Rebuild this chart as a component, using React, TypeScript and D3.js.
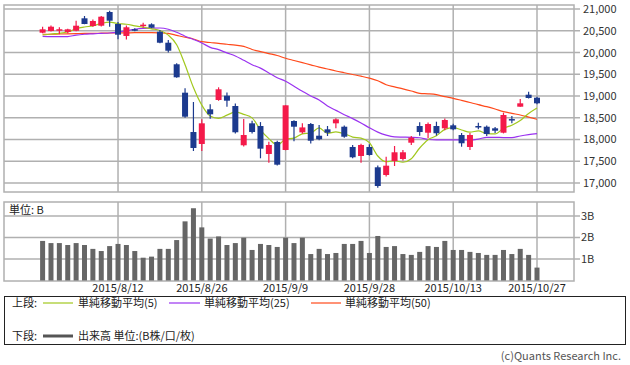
import * as d3 from "d3";

// trading days, 2015/7/30 .. 2015/10/27
const dates = [
  "7/30", "7/31", "8/3", "8/4", "8/5", "8/6", "8/7", "8/10", "8/11", "8/12",
  "8/13", "8/14", "8/17", "8/18", "8/19", "8/20", "8/21", "8/24", "8/25", "8/26",
  "8/27", "8/28", "8/31", "9/1", "9/2", "9/3", "9/4", "9/7", "9/8", "9/9",
  "9/10", "9/11", "9/14", "9/15", "9/16", "9/17", "9/18", "9/24", "9/25", "9/28",
  "9/29", "9/30", "10/1", "10/2", "10/5", "10/6", "10/7", "10/8", "10/9", "10/13",
  "10/14", "10/15", "10/16", "10/19", "10/20", "10/21", "10/22", "10/23", "10/26", "10/27",
];

const open = [
  20455, 20494, 20525, 20471, 20501, 20786, 20609, 20616, 20931, 20655,
  20380, 20535, 20620, 20648, 20478, 20225, 19729, 19076, 18172, 17897,
  18694, 18908, 19007, 18770, 17867, 18372, 18310, 17667, 17943, 17759,
  18425, 18164, 18356, 18087, 18234, 18372, 18294, 17828, 17621, 17828,
  17361, 17184, 17506, 17552, 17926, 18310, 18156, 18310, 18257, 18326,
  18103, 17828, 18310, 18294, 18257, 18156, 18470, 18754, 19030, 18961,
];
const high = [
  20593, 20620, 20579, 20548, 20731, 20839, 20760, 20839, 20961, 20701,
  20620, 20560, 20685, 20671, 20517, 20290, 19750, 19177, 18862, 18464,
  18809, 19200, 19080, 18830, 18471, 18430, 18400, 17950, 17970, 18790,
  18440, 18372, 18380, 18333, 18310, 18490, 18320, 17874, 17900, 17889,
  17400, 17605, 17851, 17760, 18080, 18395, 18390, 18409, 18480, 18360,
  18150, 18150, 18386, 18320, 18290, 18616, 18540, 18931, 19099, 18984,
];
const low = [
  20441, 20480, 20418, 20441, 20490, 20650, 20590, 20600, 20593, 20303,
  20300, 20490, 20570, 20560, 20210, 20000, 19420, 18501, 17736, 17736,
  18478, 18890, 18754, 18140, 17840, 18140, 17568, 17467, 17400, 17750,
  17959, 18130, 17910, 17980, 18080, 18260, 18040, 17570, 17467, 17630,
  16892, 17150, 17391, 17520, 17874, 18087, 18030, 18090, 18210, 18210,
  17834, 17759, 18234, 18080, 18150, 18140, 18372, 18750, 18940, 18810,
];
const close = [
  20533, 20593, 20535, 20533, 20616, 20655, 20724, 20823, 20731, 20409,
  20580, 20530, 20640, 20570, 20225, 20041, 19430, 18524, 17805, 18372,
  18579, 19154, 18892, 18166, 18103, 18172, 17789, 17874, 17421, 18786,
  18294, 18278, 17972, 18005, 18156, 18464, 18064, 17591, 17874, 17644,
  16931, 17398, 17706, 17706, 18041, 18172, 18356, 18143, 18448, 18234,
  17913, 18103, 18300, 18126, 18202, 18563, 18460, 18832, 18954, 18832,
];

const ma5 = [
  20402, 20425, 20441, 20471, 20545, 20586, 20613, 20670, 20700, 20665,
  20650, 20613, 20580, 20545, 20505, 20400, 20179, 19720, 19195, 18790,
  18542, 18487, 18560, 18633, 18579, 18497, 18224, 18021, 17872, 18008,
  18033, 18131, 18150, 18267, 18141, 18175, 18132, 18056, 18030, 17927,
  17621, 17488, 17511, 17477, 17556, 17805, 17996, 18084, 18232, 18271,
  18219, 18168, 18200, 18135, 18129, 18259, 18328, 18435, 18600, 18726,
];
const ma25 = [
  20370, 20363, 20363, 20365, 20400, 20420, 20430, 20440, 20448, 20470,
  20500, 20535, 20556, 20562, 20563, 20535, 20464, 20375, 20300, 20218,
  20119, 20065, 19990, 19920, 19820, 19720, 19640, 19530, 19420, 19340,
  19225, 19110, 19000, 18910, 18770, 18670, 18570, 18480, 18380, 18270,
  18170, 18100, 18060, 18055, 18050, 18040, 18000, 17990, 17990, 17990,
  17990, 17990, 18010, 18050, 18050, 18045, 18045, 18080, 18110, 18135,
];
const ma50 = [
  20420, 20420, 20425, 20430, 20435, 20440, 20440, 20445, 20448, 20450,
  20452, 20455, 20455, 20455, 20450, 20440, 20395, 20350, 20310, 20250,
  20230, 20212, 20190, 20170, 20140, 20070, 20020, 19975, 19930, 19867,
  19817, 19767, 19717, 19665, 19620, 19575, 19535, 19495, 19455, 19410,
  19350, 19260, 19210, 19165, 19115, 19062, 19050, 19030, 18985, 18947,
  18900, 18850, 18800, 18754, 18700, 18640, 18600, 18563, 18515, 18464,
];

// volume, unit B
const volume = [
  1.84, 1.74, 1.74, 1.65, 1.74, 1.65, 1.47, 1.37, 1.6, 1.7,
  1.65, 1.37, 1.06, 1.11, 1.47, 1.47, 1.88, 2.75, 3.36, 2.47,
  1.95, 2.05, 1.65, 1.74, 1.99, 1.42, 1.7, 1.65, 1.56, 1.99,
  1.74, 1.99, 1.23, 1.47, 1.23, 1.28, 1.7, 1.7, 1.84, 1.28,
  2.07, 1.56, 1.6, 1.23, 1.19, 1.33, 1.6, 1.56, 1.84, 1.42,
  1.42, 1.33, 1.28, 1.19, 1.19, 1.42, 1.23, 1.47, 1.19, 0.6,
];

const priceTicks = [21000, 20500, 20000, 19500, 19000, 18500, 18000, 17500, 17000];
const volTicks = [3, 2, 1];
const labelDates = ["8/12", "8/26", "9/9", "9/28", "10/13", "10/27"];

const FONT = "'Noto Sans CJK JP', 'Noto Sans', sans-serif";
const RED = "#f41a4a";
const BLUE = "#1c3a8e";
const GRID = "#b0b0b0";

const App = () => {
  const left = 4;
  const right = 574;

  const x = d3.scalePoint<string>().domain(dates).range([42.6, 537]);
  const y = d3.scaleLinear().domain([16793, 21092]).range([192, 5]);
  const yv = d3.scaleLinear().domain([0, 3.65]).range([280.5, 202]);

  const line = (vals: number[]) =>
    d3
      .line<number>()
      .x((_, i) => x(dates[i]) as number)
      .y((d) => y(d))
      .curve(d3.curveMonotoneX)(vals) as string;

  return (
    <svg
      width={630}
      height={365}
      style={{ position: "absolute", left: 0, top: 0, background: "#fff" }}
      fontFamily={FONT}
    >
      <rect width={630} height={365} fill="#fff" />

      {/* upper panel grid */}
      {priceTicks.map((t) => (
        <g key={t}>
          <line x1={left} x2={right + 6} y1={y(t)} y2={y(t)} stroke={GRID} strokeWidth={1.5} />
          <text x={583} y={y(t) + 4} fontSize={11} fill="#333">
            {d3.format(",")(t)}
          </text>
        </g>
      ))}
      {labelDates.map((d) => (
        <line key={d} x1={x(d)} x2={x(d)} y1={5} y2={192} stroke={GRID} strokeWidth={1.5} />
      ))}
      <rect x={left} y={5} width={right - left} height={187} fill="none" stroke={GRID} strokeWidth={1.5} />

      {/* moving averages */}
      <path d={line(ma50)} fill="none" stroke="#ff4a1c" strokeWidth={1.2} />
      <path d={line(ma25)} fill="none" stroke="#9a32f0" strokeWidth={1.2} />
      <path d={line(ma5)} fill="none" stroke="#a2c81e" strokeWidth={1.2} />

      {/* candles */}
      {dates.map((d, i) => {
        const cx = x(d) as number;
        const up = close[i] > open[i];
        const c = up ? RED : BLUE;
        const top = y(Math.max(open[i], close[i]));
        const bot = y(Math.min(open[i], close[i]));
        const h = Math.max(bot - top, 1.5);
        return (
          <g key={d}>
            <line x1={cx} x2={cx} y1={y(high[i])} y2={y(low[i])} stroke={c} strokeWidth={1.2} />
            <rect x={cx - 3} y={top} width={6} height={h} fill={c} />
          </g>
        );
      })}

      {/* lower panel */}
      {volTicks.map((t) => (
        <g key={t}>
          <line x1={left} x2={right + 6} y1={yv(t)} y2={yv(t)} stroke={GRID} strokeWidth={1.5} />
          <text x={581} y={yv(t) + 4} fontSize={11} fill="#333">
            {t}B
          </text>
        </g>
      ))}
      {labelDates.map((d) => (
        <line key={d} x1={x(d)} x2={x(d)} y1={202} y2={281} stroke={GRID} strokeWidth={1.5} />
      ))}
      <rect x={left} y={202} width={right - left} height={79} fill="none" stroke={GRID} strokeWidth={1.5} />
      <text x={9} y={214} fontSize={11} fill="#222">
        単位: B
      </text>
      {dates.map((d, i) => (
        <rect
          key={d}
          x={(x(d) as number) - 2.5}
          y={yv(volume[i])}
          width={5}
          height={yv(0) - yv(volume[i])}
          fill="#666"
        />
      ))}

      {/* date labels */}
      {labelDates.map((d) => (
        <text key={d} x={x(d)} y={292} fontSize={11} fill="#222" textAnchor="middle">
          2015/{d}
        </text>
      ))}

      {/* legend */}
      <rect x={4.5} y={296.5} width={621} height={48} fill="none" stroke="#222" strokeWidth={1} />
      <g fontSize={11} fill="#222">
        <text x={12} y={307}>上段:</text>
        <line x1={43} x2={73} y1={303} y2={303} stroke="#a2c81e" strokeWidth={1.2} />
        <text x={78} y={307}>単純移動平均(5)</text>
        <line x1={169} x2={200} y1={303} y2={303} stroke="#9a32f0" strokeWidth={1.2} />
        <text x={204} y={307}>単純移動平均(25)</text>
        <line x1={311} x2={341} y1={303} y2={303} stroke="#ff4a1c" strokeWidth={1.2} />
        <text x={345} y={307}>単純移動平均(50)</text>
        <text x={12} y={340}>下段:</text>
        <line x1={43} x2={73} y1={336} y2={336} stroke="#555" strokeWidth={3} />
        <text x={78} y={340}>出来高 単位:(B株/口/枚)</text>
      </g>

      <text x={621} y={360} fontSize={11} fill="#555" textAnchor="end">
        (c)Quants Research Inc.
      </text>
    </svg>
  );
};

export default App;
